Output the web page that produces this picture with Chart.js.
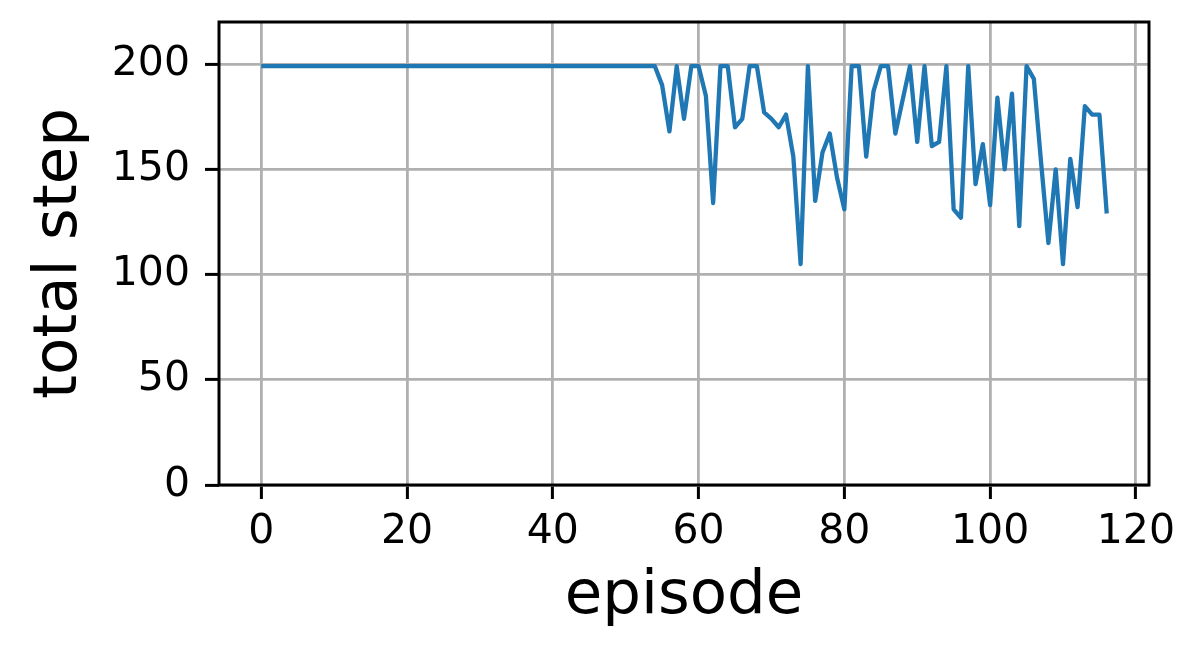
<!DOCTYPE html>
<html>
<head>
<meta charset="utf-8">
<script src="https://cdn.jsdelivr.net/npm/chart.js@4"></script>
<style>
  html, body { margin: 0; padding: 0; background: #fff; }
  #wrap { width: 1204px; height: 666px; }
</style>
</head>
<body>
<div id="wrap"><canvas id="step-chart" width="1204" height="666"></canvas></div>
<script>
// total step per episode
var steps = [
    199, 199, 199, 199, 199, 199, 199, 199, 199, 199,
    199, 199, 199, 199, 199, 199, 199, 199, 199, 199,
    199, 199, 199, 199, 199, 199, 199, 199, 199, 199,
    199, 199, 199, 199, 199, 199, 199, 199, 199, 199,
    199, 199, 199, 199, 199, 199, 199, 199, 199, 199,
    199, 199, 199, 199, 199, 190, 168, 199, 174, 199,
    199, 185, 134, 199, 199, 170, 174, 199, 199, 177,
    174, 170, 176, 156, 105, 199, 135, 158, 167, 146,
    131, 199, 199, 156, 187, 199, 199, 167, 183, 199,
    163, 199, 161, 163, 199, 131, 127, 199, 143, 162,
    133, 184, 150, 186, 123, 199, 193, 153, 115, 150,
    105, 155, 132, 180, 176, 176, 129
];
var episodes = steps.map(function (v, i) { return i; });

var xTicks = [0, 20, 40, 60, 80, 100, 120];
var yTicks = [0, 50, 100, 150, 200];

var tickFont = { family: 'DejaVu Sans', size: 41 };
var titleFont = { family: 'DejaVu Sans', size: 61 };

// matplotlib style box round the plot area
var frame = {
    id: 'frame',
    afterDatasetsDraw: function (chart) {
        var a = chart.chartArea, c = chart.ctx;
        c.save();
        c.strokeStyle = '#000';
        c.lineWidth = 3;
        c.strokeRect(a.left, a.top, a.right - a.left, a.bottom - a.top);
        c.restore();
    }
};

var points = [];
for (var i = 0; i < episodes.length; i++) {
    points.push({ x: episodes[i], y: steps[i] });
}

var ctx = document.getElementById('step-chart').getContext('2d');
var stepChart = new Chart(ctx, {
    type: 'line',
    data: {
        datasets: [{
            label: 'total step',
            data: points,
            borderColor: '#1f77b4',
            borderWidth: 4.3,
            borderJoinStyle: 'round',
            borderCapStyle: 'butt',
            pointRadius: 0,
            tension: 0,
            fill: false
        }]
    },
    options: {
        responsive: false,
        animation: false,
        devicePixelRatio: 1,
        layout: { padding: { top: 22, right: 55, left: 0, bottom: 0 } },
        plugins: {
            legend: { display: false },
            tooltip: { enabled: false }
        },
        scales: {
            x: {
                type: 'linear',
                min: -5.8,
                max: 121.8,
                afterBuildTicks: function (scale) {
                    scale.ticks = xTicks.map(function (v) { return { value: v }; });
                },
                afterFit: function (scale) { scale.height = 181; },
                ticks: { font: tickFont, color: '#000', padding: 9, maxRotation: 0, autoSkip: false },
                grid: { color: '#b0b0b0', lineWidth: 2.8, tickColor: '#000', tickWidth: 3, tickLength: 14 },
                border: { display: false },
                title: { display: true, text: 'episode', font: titleFont, color: '#000', padding: { bottom: 32, top: 0 } }
            },
            y: {
                min: 0,
                max: 220,
                afterBuildTicks: function (scale) {
                    scale.ticks = yTicks.map(function (v) { return { value: v }; });
                },
                afterFit: function (scale) {
                    scale.width = 219;
                    scale.paddingTop = 0;
                    scale.paddingBottom = 0;
                },
                ticks: { font: tickFont, color: '#000', padding: 15 },
                grid: { color: '#b0b0b0', lineWidth: 2.8, tickColor: '#000', tickWidth: 3, tickLength: 14 },
                border: { display: false },
                title: { display: true, text: 'total step', font: titleFont, color: '#000', padding: { top: 24, bottom: 0 } }
            }
        }
    },
    plugins: [frame]
});
</script>
</body>
</html>
